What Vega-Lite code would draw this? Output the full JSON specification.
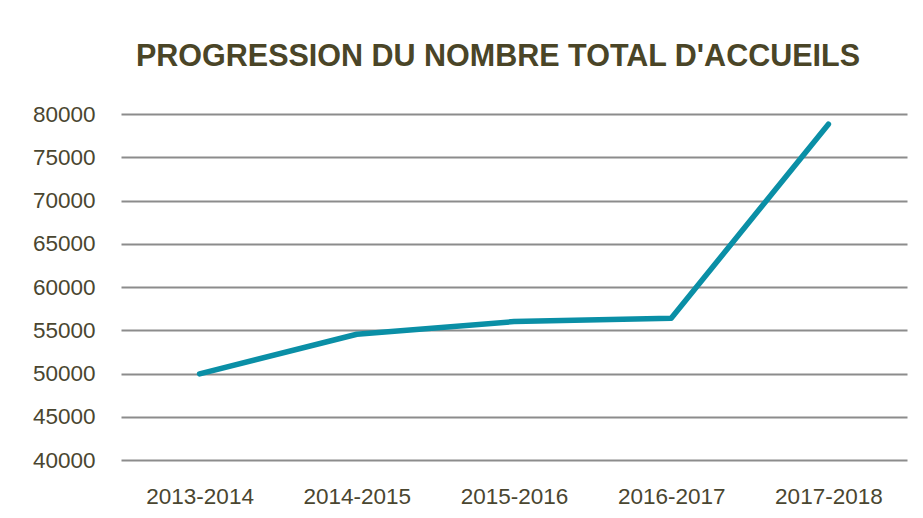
{
  "$schema": "https://vega.github.io/schema/vega-lite/v6.json",
  "width": 786,
  "height": 346,
  "autosize": {"type": "none"},
  "padding": {"left": 121, "top": 114, "right": 16, "bottom": 58},
  "background": "white",
  "title": {
    "text": "PROGRESSION DU NOMBRE TOTAL D'ACCUEILS",
    "font": "Liberation Sans",
    "fontSize": 30.5,
    "fontWeight": "bold",
    "color": "#4a4527",
    "anchor": "middle",
    "frame": "group",
    "dx": -16,
    "offset": 31
  },
  "data": {
    "values": [
      {"annee": "2013-2014", "accueils": 49950},
      {"annee": "2014-2015", "accueils": 54540},
      {"annee": "2015-2016", "accueils": 56000},
      {"annee": "2016-2017", "accueils": 56390},
      {"annee": "2017-2018", "accueils": 78820}
    ]
  },
  "mark": {"type": "line", "color": "#0a8fa6", "strokeWidth": 5.5, "strokeCap": "round", "strokeJoin": "round"},
  "encoding": {
    "x": {
      "field": "annee",
      "type": "ordinal",
      "sort": null,
      "scale": {"paddingInner": 0, "paddingOuter": 0.5},
      "axis": {
        "title": null,
        "labelAngle": 0,
        "labelFont": "Liberation Sans",
        "labelFontSize": 22.5,
        "labelColor": "#4a4630",
        "labelPadding": 25,
        "ticks": false,
        "domain": false,
        "grid": false
      }
    },
    "y": {
      "field": "accueils",
      "type": "quantitative",
      "scale": {"domain": [40000, 80000], "nice": false, "zero": false},
      "axis": {
        "title": null,
        "values": [40000, 45000, 50000, 55000, 60000, 65000, 70000, 75000, 80000],
        "format": "d",
        "labelFont": "Liberation Sans",
        "labelFontSize": 22.5,
        "labelColor": "#4a4630",
        "labelPadding": 26,
        "ticks": false,
        "domain": false,
        "grid": true,
        "gridColor": "#8c8c8c",
        "gridWidth": 2
      }
    }
  },
  "config": {"view": {"stroke": null}}
}
